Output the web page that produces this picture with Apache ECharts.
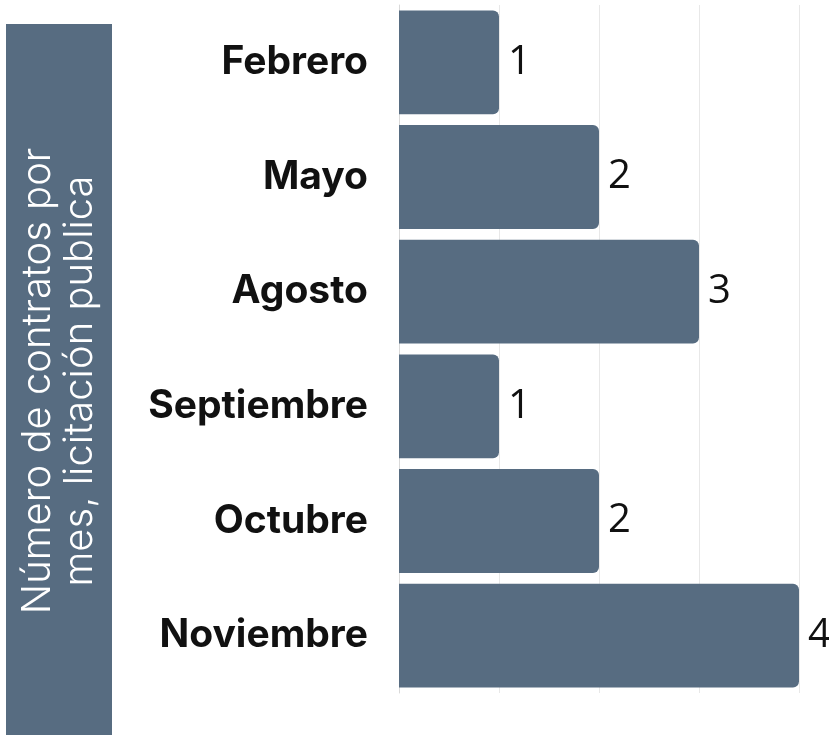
<!DOCTYPE html>
<html>
<head>
<meta charset="utf-8">
<script src="https://cdn.jsdelivr.net/npm/echarts@6/dist/echarts.min.js"></script>
<style>
  html, body { margin: 0; padding: 0; background: #fff; }
  #chart { width: 829px; height: 735px; }
</style>
</head>
<body>
<div id="chart"></div>
<script>
// meses y número de contratos
var meses = ['Febrero', 'Mayo', 'Agosto', 'Septiembre', 'Octubre', 'Noviembre'];
var contratos = [1, 2, 3, 1, 2, 4];
var tituloLineas = ['Número de contratos por', 'mes, licitación publica'];

var colorBarra = '#576c81';

var myChart = echarts.init(document.getElementById('chart'));
myChart.setOption({
  animation: false,
  grid: { left: 399, right: 30, top: 5, bottom: 42 },
  xAxis: {
    type: 'value',
    min: 0,
    max: 4,
    interval: 1,
    axisLabel: { show: false },
    axisLine: { show: false },
    axisTick: { show: false },
    splitLine: { show: true, lineStyle: { color: '#e8e8e8', width: 1 } }
  },
  yAxis: {
    type: 'category',
    inverse: true,
    data: meses,
    axisTick: { show: false },
    axisLine: { show: true, lineStyle: { color: '#d9d9d9', width: 1 } },
    axisLabel: {
      margin: 31,
      fontFamily: 'Inter',
      fontWeight: 'bold',
      fontSize: 39,
      color: '#111'
    }
  },
  series: [{
    type: 'bar',
    data: contratos,
    barCategoryGap: '9.5%',
    itemStyle: {
      color: colorBarra,
      borderRadius: [0, 6, 6, 0]
    },
    label: {
      show: true,
      position: 'right',
      distance: 9,
      fontFamily: 'Open Sans',
      fontSize: 40,
      color: '#111'
    }
  }],
  graphic: [
    {
      type: 'rect',
      shape: { x: 6, y: 24, width: 106, height: 720 },
      style: { fill: colorBarra }
    },
    {
      type: 'text',
      x: 59,
      y: 381,
      rotation: Math.PI / 2,
      style: {
        text: tituloLineas.join('\n'),
        fill: '#fff',
        font: '300 40px Inter',
        lineHeight: 42,
        align: 'center',
        verticalAlign: 'middle'
      }
    }
  ]
});
</script>
</body>
</html>
